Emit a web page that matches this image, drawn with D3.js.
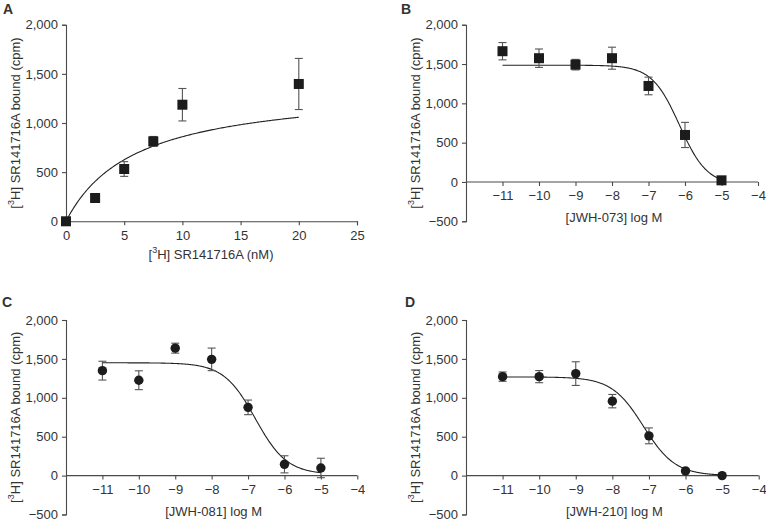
<!DOCTYPE html>
<html><head><meta charset="utf-8">
<script src="https://cdn.jsdelivr.net/npm/d3@7"></script>
<style>
html,body{margin:0;padding:0;background:#fff;}
svg{display:block;}
text{font-family:"Liberation Sans",Arial,sans-serif;fill:#333;}
</style></head>
<body>
<svg id="chart" width="766" height="521"></svg>
<script>
// ---------- Data ----------
// Panel A: saturation binding
const aConc = [0, 2.5, 5, 7.5, 10, 20];
const aBound = [0, 237, 532, 813, 1186, 1397];
const aErr = [0, 0, 75, 50, 165, 260];
const aFitBmax = 1374, aFitKd = 5.97;
const aXTicks = [0, 5, 10, 15, 20, 25];
const aYTicks = [0, 500, 1000, 1500, 2000];

// Panels B-D: competition
const logConc = [-11, -10, -9, -8, -7, -6, -5];
const bBound = [1663, 1574, 1492, 1574, 1221, 598, 21];
const bErr = [110, 117, 67, 140, 112, 160, 0];
const cBound = [1349, 1226, 1638, 1494, 877, 145, 98];
const cErr = [121, 121, 64, 145, 94, 110, 125];
const dBound = [1272, 1272, 1311, 957, 511, 60, 0];
const dErr = [60, 78, 152, 86, 102, 0, 0];
// fitted sigmoid parameters [top, bottom, logIC50, hill]
const bFit = [1485, -40, -6.15, 1.15];
const cFit = [1450, 15, -6.8, 1.0];
const dFit = [1268, 0, -7.15, 1.0];
const logXTicks = [-11, -10, -9, -8, -7, -6, -5, -4];
const compYTicks = [-500, 0, 500, 1000, 1500, 2000];

const xTitles = ["[JWH-073] log M", "[JWH-081] log M", "[JWH-210] log M"];

// ---------- Drawing ----------
const svg = d3.select("#chart");
const axisColor = "#4a4a4a";
const fmt = v => d3.format(",")(v).replace("-", "\u2212");

function styleAxis(g) {
  g.selectAll("path.domain").attr("stroke", axisColor).attr("stroke-width", 1.1);
  g.selectAll(".tick line").attr("stroke", axisColor).attr("stroke-width", 1.1);
  g.selectAll(".tick text").attr("font-size", 13).attr("fill", "#333")
    .style("font-family", '"Liberation Sans", Arial, sans-serif');
}

function yTitle(g, x, y) {
  const t = g.append("text").attr("transform", `translate(${x},${y}) rotate(-90)`)
    .attr("text-anchor", "middle").attr("font-size", 13);
  t.append("tspan").text("[");
  t.append("tspan").attr("font-size", 9).attr("dy", -6).text("3");
  t.append("tspan").attr("dy", 6).text("H] SR141716A bound (cpm)");
}

function panelLabel(x, y, s) {
  svg.append("text").attr("x", x).attr("y", y).attr("font-size", 14)
    .attr("font-weight", "bold").attr("fill", "#222").text(s);
}

function errorBars(g, xs, ys, es, x, y) {
  const eb = g.append("g").attr("stroke", "#555").attr("stroke-width", 1.1);
  xs.forEach((xv, i) => {
    if (!es[i]) return;
    const px = x(xv), top = y(ys[i] + es[i]), bot = y(ys[i] - es[i]);
    eb.append("line").attr("x1", px).attr("x2", px).attr("y1", top).attr("y2", bot);
    eb.append("line").attr("x1", px - 4).attr("x2", px + 4).attr("y1", top).attr("y2", top);
    eb.append("line").attr("x1", px - 4).attr("x2", px + 4).attr("y1", bot).attr("y2", bot);
  });
}

// Panel A
(function () {
  const x = d3.scaleLinear().domain([0, 25]).range([66, 357]);
  const y = d3.scaleLinear().domain([0, 2000]).range([221.3, 24.7]);
  const g = svg.append("g");
  g.append("g").attr("transform", `translate(0,${y(0)})`)
    .call(d3.axisBottom(x).tickValues(aXTicks).tickSize(4).tickPadding(5).tickFormat(fmt))
    .call(styleAxis);
  g.append("g").attr("transform", `translate(${x(0)},0)`)
    .call(d3.axisLeft(y).tickValues(aYTicks).tickSize(4).tickPadding(4).tickFormat(fmt))
    .call(styleAxis);
  // fit curve
  const xs = d3.range(0, 20.001, 0.1);
  const line = d3.line().x(d => x(d)).y(d => y(aFitBmax * d / (aFitKd + d)));
  g.append("path").datum(xs).attr("d", line).attr("fill", "none")
    .attr("stroke", "#222").attr("stroke-width", 1.1);
  errorBars(g, aConc, aBound, aErr, x, y);
  g.append("g").selectAll("rect").data(aConc).join("rect")
    .attr("x", d => x(d) - 5).attr("y", (d, i) => y(aBound[i]) - 5)
    .attr("width", 10).attr("height", 10).attr("fill", "#1c1c1c");
  yTitle(g, 20, (y(0) + y(2000)) / 2);
  const t = g.append("text").attr("x", (x(0) + x(25)) / 2 - 0.5).attr("y", 259)
    .attr("text-anchor", "middle").attr("font-size", 13);
  t.append("tspan").text("[");
  t.append("tspan").attr("font-size", 9).attr("dy", -6).text("3");
  t.append("tspan").attr("dy", 6).text("H] SR141716A (nM)");
  panelLabel(3, 14, "A");
})();

function compPanel(x0, x1, yTop, yBot, vals, errs, fit, marker, title, label, lx, ly) {
  const x = d3.scaleLinear().domain([-12, -4]).range([x0, x1]);
  const y = d3.scaleLinear().domain([-500, 2000]).range([yBot, yTop]);
  const g = svg.append("g");
  const xa = g.append("g").attr("transform", `translate(0,${y(0)})`)
    .call(d3.axisBottom(x).tickValues(logXTicks).tickSize(4).tickPadding(5).tickFormat(fmt))
    .call(styleAxis);
  xa.select("path.domain").attr("d", `M${x0},0H${x1}`);
  g.append("g").attr("transform", `translate(${x0},0)`)
    .call(d3.axisLeft(y).tickValues(compYTicks).tickSize(4).tickPadding(4).tickFormat(fmt))
    .call(styleAxis);
  const [top, bottom, ic, h] = fit;
  const xs = d3.range(-11, -4.999, 0.02);
  const line = d3.line().x(d => x(d)).y(d => y(bottom + (top - bottom) / (1 + Math.pow(10, (d - ic) * h))));
  g.append("path").datum(xs).attr("d", line).attr("fill", "none")
    .attr("stroke", "#222").attr("stroke-width", 1.1);
  errorBars(g, logConc, vals, errs, x, y);
  if (marker === "square") {
    g.append("g").selectAll("rect").data(logConc).join("rect")
      .attr("x", d => x(d) - 5).attr("y", (d, i) => y(vals[i]) - 5)
      .attr("width", 10).attr("height", 10).attr("fill", "#1c1c1c");
  } else {
    g.append("g").selectAll("circle").data(logConc).join("circle")
      .attr("cx", d => x(d)).attr("cy", (d, i) => y(vals[i])).attr("r", 4.7)
      .attr("fill", "#1c1c1c");
  }
  yTitle(g, x0 - 46, (yTop + yBot) / 2);
  g.append("text").attr("x", (x(-12) + x(-4)) / 2 + 2).attr("y", yBot + 1)
    .attr("text-anchor", "middle").attr("font-size", 13).text(title);
  panelLabel(lx, ly, label);
}

compPanel(466, 758, 24.7, 221.3, bBound, bErr, bFit, "square", xTitles[0], "B", 401, 14);
compPanel(66, 357.3, 320, 514.5, cBound, cErr, cFit, "circle", xTitles[1], "C", 2, 307);
compPanel(466, 758.7, 320, 514.5, dBound, dErr, dFit, "circle", xTitles[2], "D", 405, 307);
</script>
</body></html>
